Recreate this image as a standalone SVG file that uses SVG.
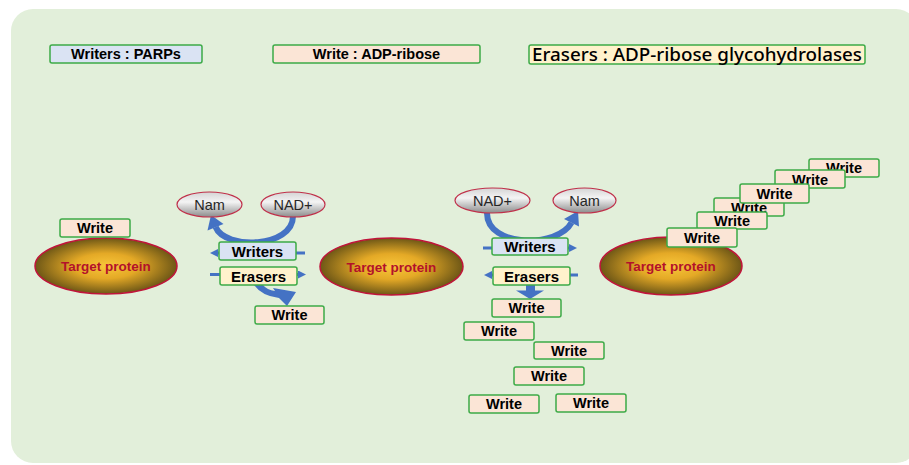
<svg xmlns="http://www.w3.org/2000/svg" width="909" height="465" viewBox="0 0 909 465">
<defs>
<radialGradient id="gTarget" cx="50%" cy="50%" r="50%">
<stop offset="0" stop-color="#f8c63a"/>
<stop offset="0.45" stop-color="#e4a926"/>
<stop offset="1" stop-color="#6e5716"/>
</radialGradient>
<linearGradient id="gGrey" x1="0" y1="0" x2="0" y2="1">
<stop offset="0" stop-color="#d4d4d4"/>
<stop offset="0.4" stop-color="#f4f4f4"/>
<stop offset="1" stop-color="#8c8c8c"/>
</linearGradient>
<marker id="ah" markerUnits="userSpaceOnUse" markerWidth="9" markerHeight="9" refX="1" refY="4" orient="auto">
<path d="M0,0 L8,4 L0,8 z" fill="#4472c4"/>
</marker>
<style>
.bg{fill:#e2efda}
.box{stroke:#3dab47;stroke-width:1.5}
.blue{fill:#dae3f3}
.peach{fill:#fbe5d6}
.yellow{fill:#fff2cc}
.t{font-family:"Liberation Sans",Arial,sans-serif;font-weight:bold;fill:#000;text-anchor:middle}
.tgt{fill:url(#gTarget);stroke:#c0143a;stroke-width:1.5}
.tgtT{font-family:"Liberation Sans",Arial,sans-serif;font-weight:bold;font-size:13.5px;fill:#b3122a;text-anchor:middle}
.grey{fill:url(#gGrey);stroke:#c0304a;stroke-width:1.2}
.gT{font-family:"Liberation Sans",Arial,sans-serif;font-size:14.5px;fill:#262626;text-anchor:middle}
.ln{stroke:#4472c4;stroke-width:3;fill:none}
.crv{stroke:#4472c4;stroke-width:6;fill:none;stroke-linecap:butt}
.hd{fill:#4472c4}
</style>
</defs>
<rect class="bg" x="11" y="9" width="907" height="454" rx="22"/>

<g id="legend-writers"><rect class="box blue" x="50" y="45" width="152" height="18" rx="2"/><text class="t" x="126" y="59" font-size="14.5">Writers : PARPs</text></g>
<g id="legend-write"><rect class="box peach" x="273" y="45" width="207" height="18" rx="2"/><text class="t" x="376.5" y="59" font-size="14.5">Write : ADP-ribose</text></g>
<g id="legend-erasers"><rect class="box yellow" x="529" y="45" width="336" height="19" rx="2"/><text x="532" y="60.5" font-family="Noto Sans, Liberation Sans, Arial, sans-serif" font-weight="500" font-size="17.5" textLength="330" lengthAdjust="spacingAndGlyphs" fill="#000">Erasers : ADP-ribose glycohydrolases</text></g>

<g id="connectors">
<path class="crv" d="M293 216 C293 248 225 250 215.6 227"/>
<polygon class="hd" points="211,215 223.5,224 207.5,230.5"/>
<path class="crv" d="M487 213 C487 248 558 248 571.5 222.7"/>
<polygon class="hd" points="578,211 579,226.5 564,219"/>
<line class="ln" x1="305" y1="253" x2="217" y2="253" marker-end="url(#ah)"/>
<line class="ln" x1="210" y1="274.5" x2="299" y2="274.5" marker-end="url(#ah)"/>
<line class="ln" x1="483" y1="248" x2="570" y2="248" marker-end="url(#ah)"/>
<line class="ln" x1="578" y1="275" x2="491" y2="275" marker-end="url(#ah)"/>
<path class="hd" d="M254 285 L263 285 Q267 290 275 291 L273 288 L296 292 L287 306 L279 298 Q262 296 254 285 Z"/>
<rect class="hd" x="526" y="284" width="9" height="8"/>
<polygon class="hd" points="516,290.5 544,290.5 530,299"/>
</g>

<g id="target-left"><ellipse class="tgt" cx="106" cy="266" rx="71" ry="28"/><text class="tgtT" x="106" y="271">Target protein</text></g>
<g id="write-left"><rect class="box peach" x="60" y="219" width="70" height="18" rx="2"/><text class="t" x="95" y="233" font-size="14.5">Write</text></g>

<g id="nam-1"><ellipse class="grey" cx="209.5" cy="204.5" rx="32.5" ry="12.5"/><text class="gT" x="209.5" y="209.5">Nam</text></g>
<g id="nad-1"><ellipse class="grey" cx="293" cy="204.5" rx="32" ry="12.5"/><text class="gT" x="293" y="209.5">NAD+</text></g>
<g id="writers-1"><rect class="box blue" x="219" y="242" width="77" height="18" rx="2"/><text class="t" x="257.5" y="256.5" font-size="15">Writers</text></g>
<g id="erasers-1"><rect class="box yellow" x="220" y="267" width="77" height="18" rx="2"/><text class="t" x="258.5" y="281.5" font-size="15">Erasers</text></g>
<g id="write-1"><rect class="box peach" x="255" y="306" width="69" height="18" rx="2"/><text class="t" x="289.5" y="320" font-size="14.5">Write</text></g>

<g id="target-mid"><ellipse class="tgt" cx="391.5" cy="266.5" rx="71.5" ry="28.5"/><text class="tgtT" x="391.5" y="271.5">Target protein</text></g>

<g id="nad-2"><ellipse class="grey" cx="492.5" cy="200.5" rx="37.5" ry="12.5"/><text class="gT" x="492.5" y="205.5">NAD+</text></g>
<g id="nam-2"><ellipse class="grey" cx="584.5" cy="200.5" rx="31.5" ry="12.5"/><text class="gT" x="584.5" y="205.5">Nam</text></g>
<g id="writers-2"><rect class="box blue" x="492" y="238" width="76" height="17" rx="2"/><text class="t" x="530" y="252" font-size="15">Writers</text></g>
<g id="erasers-2"><rect class="box yellow" x="493" y="267" width="77" height="18" rx="2"/><text class="t" x="531.5" y="281.5" font-size="15">Erasers</text></g>

<g id="write-m1"><rect class="box peach" x="492" y="299" width="69" height="18" rx="2"/><text class="t" x="526.5" y="313" font-size="14.5">Write</text></g>
<g id="write-m2"><rect class="box peach" x="464" y="322" width="70" height="18" rx="2"/><text class="t" x="499" y="336" font-size="14.5">Write</text></g>
<g id="write-m3"><rect class="box peach" x="534" y="342" width="70" height="17" rx="2"/><text class="t" x="569" y="355.5" font-size="14.5">Write</text></g>
<g id="write-m4"><rect class="box peach" x="514" y="367" width="70" height="18" rx="2"/><text class="t" x="549" y="381" font-size="14.5">Write</text></g>
<g id="write-m5"><rect class="box peach" x="469" y="395" width="70" height="18" rx="2"/><text class="t" x="504" y="409" font-size="14.5">Write</text></g>
<g id="write-m6"><rect class="box peach" x="556" y="394" width="70" height="18" rx="2"/><text class="t" x="591" y="408" font-size="14.5">Write</text></g>

<g id="target-right"><ellipse class="tgt" cx="671" cy="266" rx="71" ry="29"/><text class="tgtT" x="671" y="271">Target protein</text></g>

<g id="write-r6"><rect class="box peach" x="809" y="159" width="70" height="18" rx="2"/><text class="t" x="844" y="173" font-size="14.5">Write</text></g>
<g id="write-r5"><rect class="box peach" x="775" y="170" width="70" height="18" rx="2"/><text class="t" x="810" y="184.5" font-size="14.5">Write</text></g>
<g id="write-r3"><rect class="box peach" x="714" y="198" width="70" height="18" rx="2"/><text class="t" x="749" y="212.5" font-size="14.5">Write</text></g>
<g id="write-r4"><rect class="box peach" x="740" y="184" width="69" height="19" rx="2"/><text class="t" x="774.5" y="198.5" font-size="14.5">Write</text></g>
<g id="write-r2"><rect class="box peach" x="697" y="212" width="70" height="17" rx="2"/><text class="t" x="732" y="225.5" font-size="14.5">Write</text></g>
<g id="write-r1"><rect class="box peach" x="667" y="228" width="70" height="19" rx="2"/><text class="t" x="702" y="242.5" font-size="14.5">Write</text></g>
</svg>
